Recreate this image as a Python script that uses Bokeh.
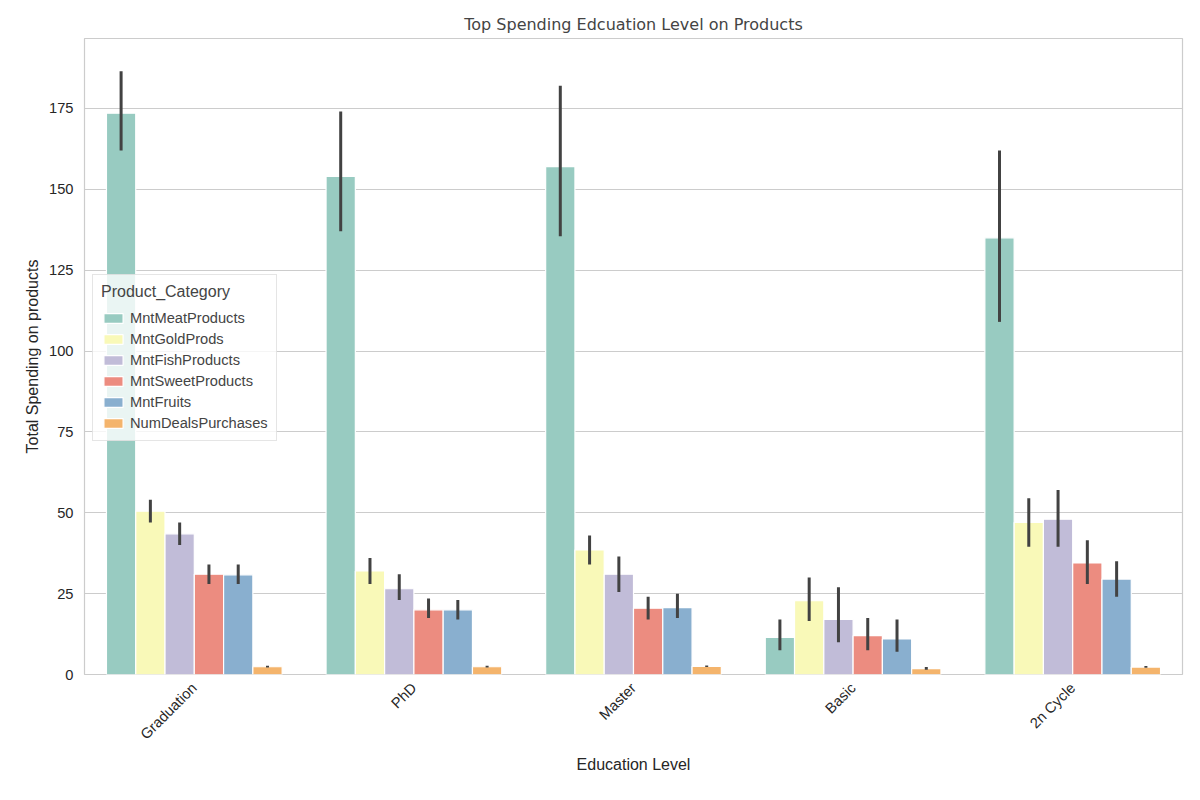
from bokeh.models import ColumnDataSource, Range1d, FixedTicker, Legend, LegendItem
from bokeh.plotting import figure
from bokeh.embed import file_html
from bokeh.resources import INLINE

levels = ['Graduation', 'PhD', 'Master', 'Basic', '2n Cycle']
categories = ['MntMeatProducts', 'MntGoldProds', 'MntFishProducts',
              'MntSweetProducts', 'MntFruits', 'NumDealsPurchases']
colors = ['#98cbc1', '#f9f9b8', '#c1bcd8', '#ec8c80', '#89afcf', '#f4b46c']

# mean, lower ci, upper ci per category (order of levels)
means = {
    'MntMeatProducts':   [173.5, 154.0, 157.0, 11.5, 135.0],
    'MntGoldProds':      [50.5, 32.0, 38.5, 22.8, 47.0],
    'MntFishProducts':   [43.5, 26.5, 31.0, 17.0, 48.0],
    'MntSweetProducts':  [31.0, 20.0, 20.5, 12.0, 34.5],
    'MntFruits':         [30.8, 20.0, 20.7, 11.0, 29.5],
    'NumDealsPurchases': [2.4, 2.4, 2.5, 1.8, 2.3],
}
lows = {
    'MntMeatProducts':   [162.0, 137.0, 135.5, 7.5, 109.0],
    'MntGoldProds':      [47.0, 28.0, 34.0, 16.5, 39.5],
    'MntFishProducts':   [40.0, 23.0, 25.5, 10.0, 39.5],
    'MntSweetProducts':  [28.0, 17.5, 17.0, 7.5, 28.0],
    'MntFruits':         [28.0, 17.0, 17.5, 7.0, 24.0],
    'NumDealsPurchases': [2.2, 2.2, 2.3, 1.5, 2.1],
}
highs = {
    'MntMeatProducts':   [186.5, 174.0, 182.0, 17.0, 162.0],
    'MntGoldProds':      [54.0, 36.0, 43.0, 30.0, 54.5],
    'MntFishProducts':   [47.0, 31.0, 36.5, 27.0, 57.0],
    'MntSweetProducts':  [34.0, 23.5, 24.0, 17.5, 41.5],
    'MntFruits':         [34.0, 23.0, 25.0, 17.0, 35.0],
    'NumDealsPurchases': [2.7, 2.7, 2.8, 2.3, 2.6],
}

p = figure(width=1184, height=784, x_range=Range1d(-0.5, 4.5), y_range=Range1d(0, 196.6),
           title="Top Spending Edcuation Level on Products",
           output_backend="svg", toolbar_location=None, tools="",
           min_border_left=84, min_border_right=2, min_border_top=38, min_border_bottom=110)

bw = 0.8 / 6
items = []
for i, cat in enumerate(categories):
    xs = [j + (i - 2.5) * bw for j in range(len(levels))]
    src = ColumnDataSource(dict(x=xs, top=means[cat], lo=lows[cat], hi=highs[cat]))
    r = p.vbar(x='x', top='top', width=bw, source=src, fill_color=colors[i],
               line_color='white', line_width=1.2)
    p.segment(x0='x', x1='x', y0='lo', y1='hi', source=src, line_color='#424242', line_width=3)
    items.append(LegendItem(label=cat, renderers=[r]))

legend = Legend(items=items, location=(8, 233), title="Product_Category",
                title_text_font_size="12pt", label_text_font_size="11pt",
                title_text_font_style="normal", border_line_color="#cccccc",
                background_fill_alpha=0.8, glyph_width=24, glyph_height=12,
                spacing=3, padding=8, label_height=18, title_standoff=8)
p.add_layout(legend, "center")

p.title.align = "center"
p.title.text_font_style = "normal"
p.title.text_font_size = "12pt"
p.title.text_font = "DejaVu Sans"

p.xaxis.ticker = FixedTicker(ticks=list(range(len(levels))))
p.xaxis.major_label_overrides = {i: l for i, l in enumerate(levels)}
p.xaxis.major_label_orientation = 0.785
p.yaxis.ticker = FixedTicker(ticks=[0, 25, 50, 75, 100, 125, 150, 175])
p.xaxis.axis_label = "Education Level"
p.yaxis.axis_label = "Total Spending on products"
for ax in (p.xaxis, p.yaxis):
    ax.axis_line_color = None
    ax.major_tick_line_color = None
    ax.minor_tick_line_color = None
    ax.major_label_text_font_size = "11pt"
    ax.major_label_text_color = "#262626"
    ax.axis_label_text_font_size = "12pt"
    ax.axis_label_text_font_style = "normal"
    ax.axis_label_text_color = "#262626"
p.xgrid.grid_line_color = None
p.ygrid.grid_line_color = "#cccccc"
p.outline_line_color = "#cccccc"
p.outline_line_width = 1.2

open("out.html", "w").write(file_html(p, INLINE))
